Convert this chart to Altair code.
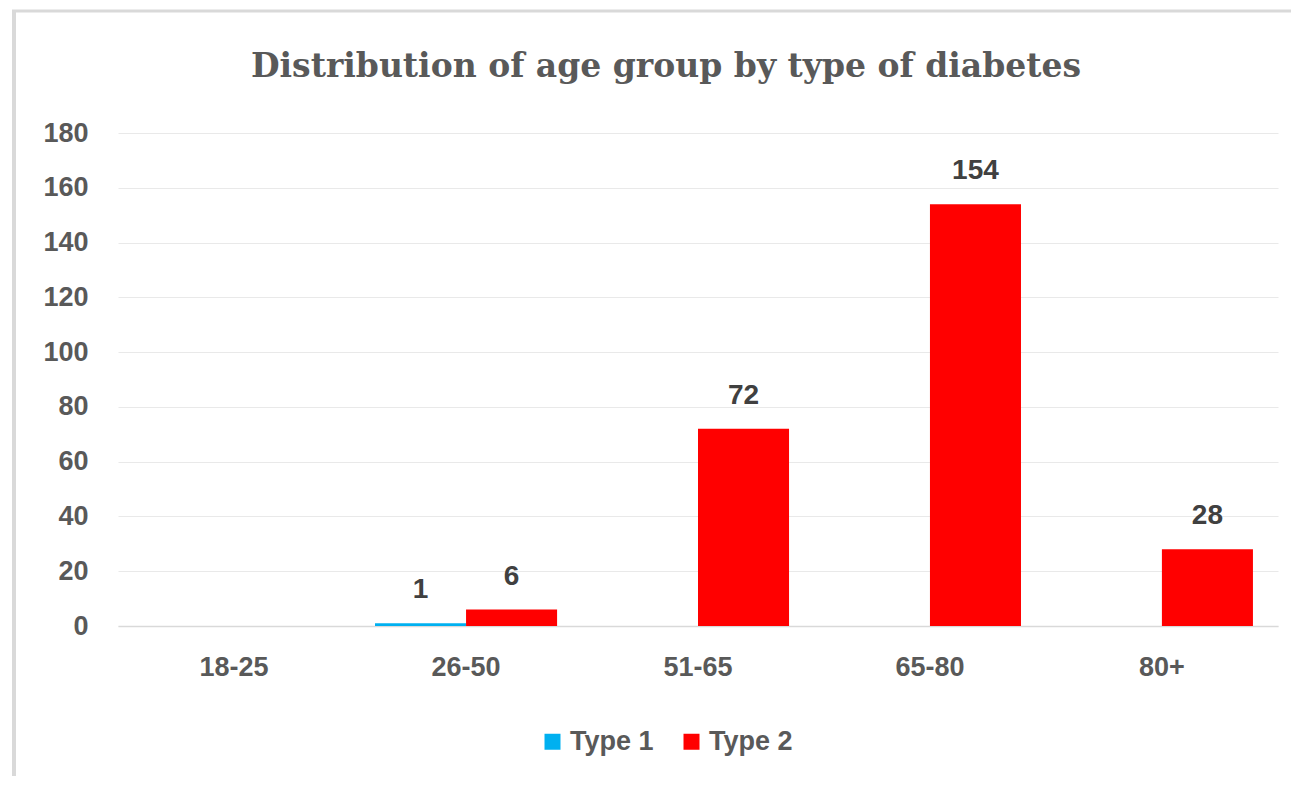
import altair as alt
import pandas as pd

age_groups = ["18-25", "26-50", "51-65", "65-80", "80+"]
series = ["Type 1", "Type 2"]
type1 = [0, 1, 0, 0, 0]
type2 = [0, 6, 72, 154, 28]
colors = ["#00B0F0", "#FF0000"]
y_ticks = [0, 20, 40, 60, 80, 100, 120, 140, 160, 180]

rows = []
for g, a, b in zip(age_groups, type1, type2):
    rows.append({"age": g, "type": "Type 1", "value": a})
    rows.append({"age": g, "type": "Type 2", "value": b})
df = pd.DataFrame(rows)

SANS = "Liberation Sans"
GRAY = "#595959"

x_enc = alt.X(
    "age:N", sort=age_groups, title=None,
    scale=alt.Scale(paddingInner=0.215, paddingOuter=0.108),
    axis=alt.Axis(labelAngle=0, labelFont=SANS, labelFontSize=27, labelFontWeight="bold",
                  labelColor=GRAY, labelPadding=28, ticks=False, domainColor="#D9D9D9",
                  domainWidth=1.5, grid=False),
)
xo_enc = alt.XOffset("type:N", sort=series, scale=alt.Scale(paddingInner=0, paddingOuter=0))
y_enc = alt.Y(
    "value:Q", title=None,
    scale=alt.Scale(domain=[0, 180], nice=False),
    axis=alt.Axis(values=y_ticks, labelFont=SANS, labelFontSize=27, labelFontWeight="bold",
                  labelColor=GRAY, labelPadding=30, ticks=False, domain=False,
                  gridColor="#E9E9E9", gridWidth=1.2),
)

base = alt.Chart(df)
bars = base.mark_bar().encode(
    x=x_enc, xOffset=xo_enc, y=y_enc,
    color=alt.Color("type:N", sort=series,
                    scale=alt.Scale(domain=series, range=colors),
                    legend=alt.Legend(title=None, orient="none", legendX=421, legendY=595,
                                      direction="horizontal", symbolType="square",
                                      symbolSize=256, symbolStrokeWidth=0,
                                      labelFont=SANS, labelFontSize=27, labelFontWeight="bold",
                                      labelColor=GRAY, labelOffset=4, columnPadding=24,
                                      padding=0)),
)
labels = base.mark_text(
    font=SANS, fontSize=28, fontWeight="bold", color="#404040",
    baseline="alphabetic", dy=-25,
).encode(
    x=x_enc, xOffset=xo_enc, y=y_enc, text=alt.Text("value:Q"),
).transform_filter("datum.value > 0")

frame_df = pd.DataFrame({"k": [0]})
left_border = alt.Chart(frame_df).mark_rule(color="#D9D9D9", strokeWidth=4).encode(
    x=alt.value(-104), x2=alt.value(-104), y=alt.value(-123), y2=alt.value(700))
top_border = alt.Chart(frame_df).mark_rule(color="#D9D9D9", strokeWidth=3).encode(
    x=alt.value(-106), x2=alt.value(1200), y=alt.value(-122), y2=alt.value(-122))

chart = alt.layer(left_border, top_border, bars, labels).properties(
    width=1160, height=493,
    title=alt.TitleParams("Distribution of age group by type of diabetes",
                          font="DejaVu Serif", fontSize=33, fontWeight="bold",
                          color=GRAY, anchor="middle", baseline="alphabetic", offset=-102,
                          dx=-32),
    autosize=alt.AutoSizeParams(type="none"),
    padding={"left": 110, "top": 125, "right": 13, "bottom": 150},
).configure_view(stroke=None)

chart.save("out.html", embed_options={"renderer": "svg", "actions": False})
